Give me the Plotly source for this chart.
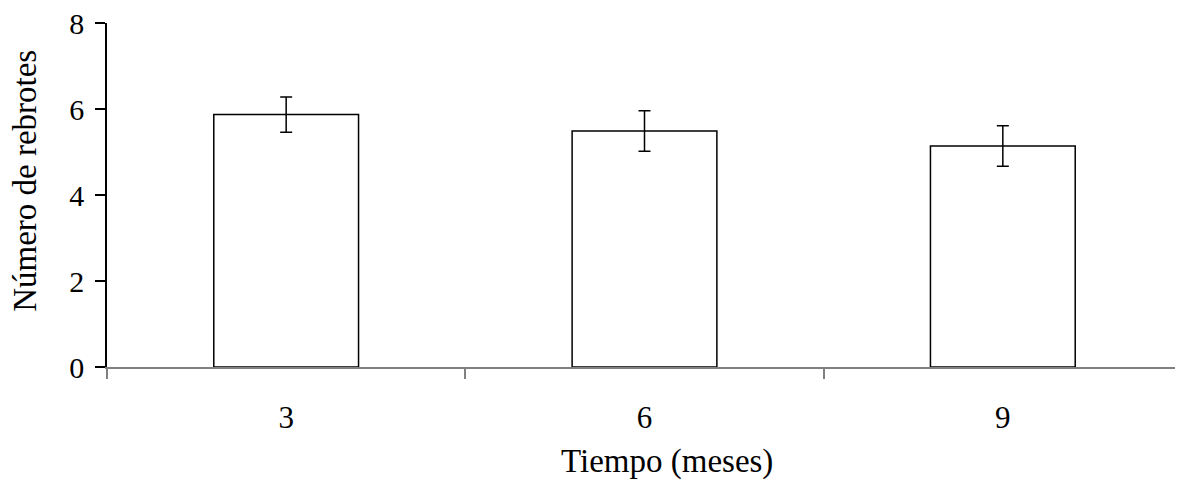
import plotly.graph_objects as go

meses = ["3", "6", "9"]
rebrotes = [5.87, 5.49, 5.14]
error = [0.41, 0.47, 0.47]

FONT = "Liberation Serif, Times New Roman, serif"

fig = go.Figure()
fig.add_trace(go.Bar(
    x=meses, y=rebrotes,
    width=0.404,
    marker=dict(color="white", line=dict(color="black", width=1.5)),
    error_y=dict(type="data", array=error, visible=True,
                 color="black", thickness=1.5, width=6),
))

# titles placed as annotations, like in the original (not centred on the axes)
fig.add_annotation(text="Tiempo (meses)", xref="paper", yref="paper",
                   x=0.521, y=-0.274, xanchor="center", yanchor="middle",
                   showarrow=False, font=dict(size=33))
fig.add_annotation(text="Número de rebrotes", xref="paper", yref="paper",
                   x=-0.0763, y=0.541, xanchor="center", yanchor="middle",
                   textangle=-90, showarrow=False, font=dict(size=33))

fig.update_layout(
    width=1175, height=473,
    margin=dict(l=99, r=1, t=15, b=114),
    paper_bgcolor="white", plot_bgcolor="white",
    showlegend=False,
    font=dict(family=FONT, size=30, color="black"),
    xaxis=dict(
        type="category", tickson="boundaries", automargin=False,
        showline=True, linecolor="#808080", linewidth=1.5,
        ticks="outside", ticklen=10, tickcolor="#808080", tickwidth=1.5,
        ticklabelstandoff=22,
        tickfont=dict(size=31),
        showgrid=False, zeroline=False,
    ),
    yaxis=dict(
        range=[0, 8], tickvals=[0, 2, 4, 6, 8], automargin=False,
        showline=True, linecolor="black", linewidth=1.5,
        ticks="outside", ticklen=10, tickcolor="black", tickwidth=1.5,
        ticklabelstandoff=5, ticklabeloverflow="allow",
        tickfont=dict(size=30),
        showgrid=False, zeroline=False,
    ),
)

fig.write_html("out.html")
